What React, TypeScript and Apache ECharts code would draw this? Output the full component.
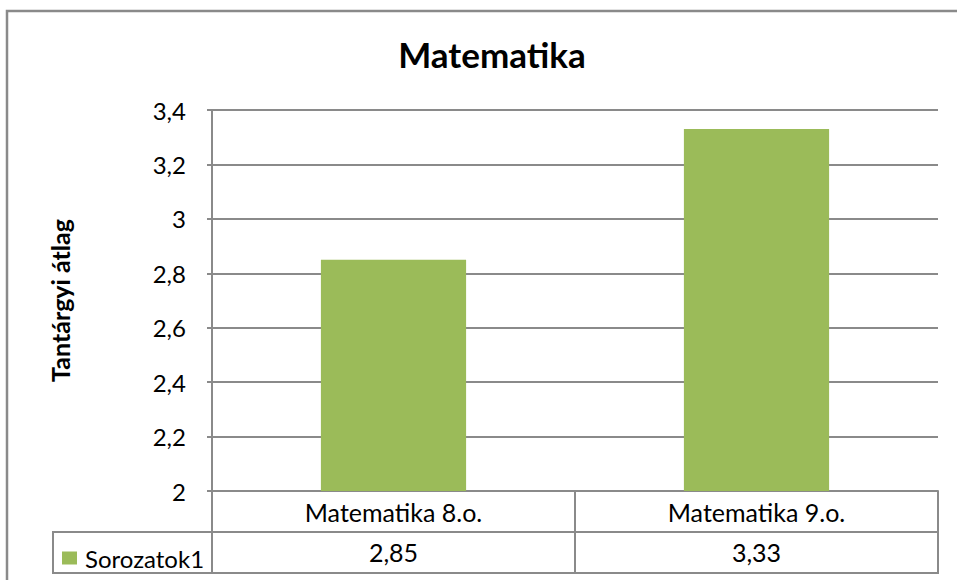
import React, { useEffect, useRef } from "react";
import * as echarts from "echarts";

const title = "Matematika";
const categories = ["Matematika 8.o.", "Matematika 9.o."];
const seriesName = "Sorozatok1";
const values = [2.85, 3.33];
const yAxisName = "Tantárgyi átlag";
const yMin = 2;
const yMax = 3.4;
const yStep = 0.2;

const FONT = "Lato, 'Liberation Sans', sans-serif";
const GRAY = "#8a8a8a";
const GREEN = "#9BBB59";

const fmtTick = (v: number) => String(Number(v.toFixed(1))).replace(".", ",");
const fmtVal = (v: number) => v.toFixed(2).replace(".", ",");

export default function App() {
  const ref = useRef<HTMLDivElement>(null);
  useEffect(() => {
    if (!ref.current) return;
    const chart = echarts.init(ref.current, undefined, { renderer: "svg" });
    chart.setOption({
      animation: false,
      backgroundColor: "#ffffff",
      title: {
        text: title,
        top: 31,
        left: 487,
        textAlign: "center",
        textStyle: { fontFamily: FONT, fontSize: 35, fontWeight: "bold", color: "#000" },
      },
      legend: {
        left: 57,
        top: 541,
        icon: "rect",
        itemWidth: 15,
        itemHeight: 13,
        itemGap: 0,
        textStyle: { fontFamily: FONT, fontSize: 24, color: "#000", padding: [0, 0, 0, 3] },
        data: [seriesName],
      },
      grid: { left: 212, top: 110, right: 19, bottom: 89 },
      xAxis: {
        type: "category",
        data: categories,
        boundaryGap: true,
        axisLine: { show: true, lineStyle: { color: GRAY, width: 2 } },
        axisTick: { show: true, length: 82, lineStyle: { color: GRAY, width: 2 } },
        axisLabel: {
          interval: 0,
          margin: 1,
          formatter: (name: string, idx: number) => `{a|${name}}\n{a|${fmtVal(values[idx])}}`,
          rich: {
            a: { fontFamily: FONT, fontSize: 25, color: "#000", lineHeight: 40 },
          },
        },
      },
      yAxis: {
        type: "value",
        min: yMin,
        max: yMax,
        interval: yStep,
        name: yAxisName,
        nameLocation: "middle",
        nameGap: 140,
        nameTextStyle: { fontFamily: FONT, fontSize: 25, fontWeight: "bold", color: "#000" },
        axisLine: { show: true, lineStyle: { color: GRAY, width: 2 } },
        axisTick: { show: true, length: 5, lineStyle: { color: GRAY, width: 2 } },
        splitLine: { show: true, lineStyle: { color: GRAY, width: 2 } },
        axisLabel: {
          margin: 26,
          formatter: (v: number) => fmtTick(v),
          fontFamily: FONT,
          fontSize: 24,
          color: "#000",
        },
      },
      series: [
        {
          type: "bar",
          name: seriesName,
          data: values,
          barWidth: "40%",
          itemStyle: { color: GREEN },
        },
      ],
      graphic: [
        {
          type: "rect",
          shape: { x: 7, y: 11, width: 980, height: 620 },
          style: { fill: "none", stroke: GRAY, lineWidth: 2.5 },
          silent: true,
        },
        {
          type: "rect",
          shape: { x: 53, y: 532, width: 885, height: 41 },
          style: { fill: "none", stroke: GRAY, lineWidth: 2 },
          silent: true,
        },
      ],
    });
    return () => chart.dispose();
  }, []);
  return (
    <div
      ref={ref}
      style={{ position: "fixed", left: 0, top: 0, width: 957, height: 580 }}
    />
  );
}
